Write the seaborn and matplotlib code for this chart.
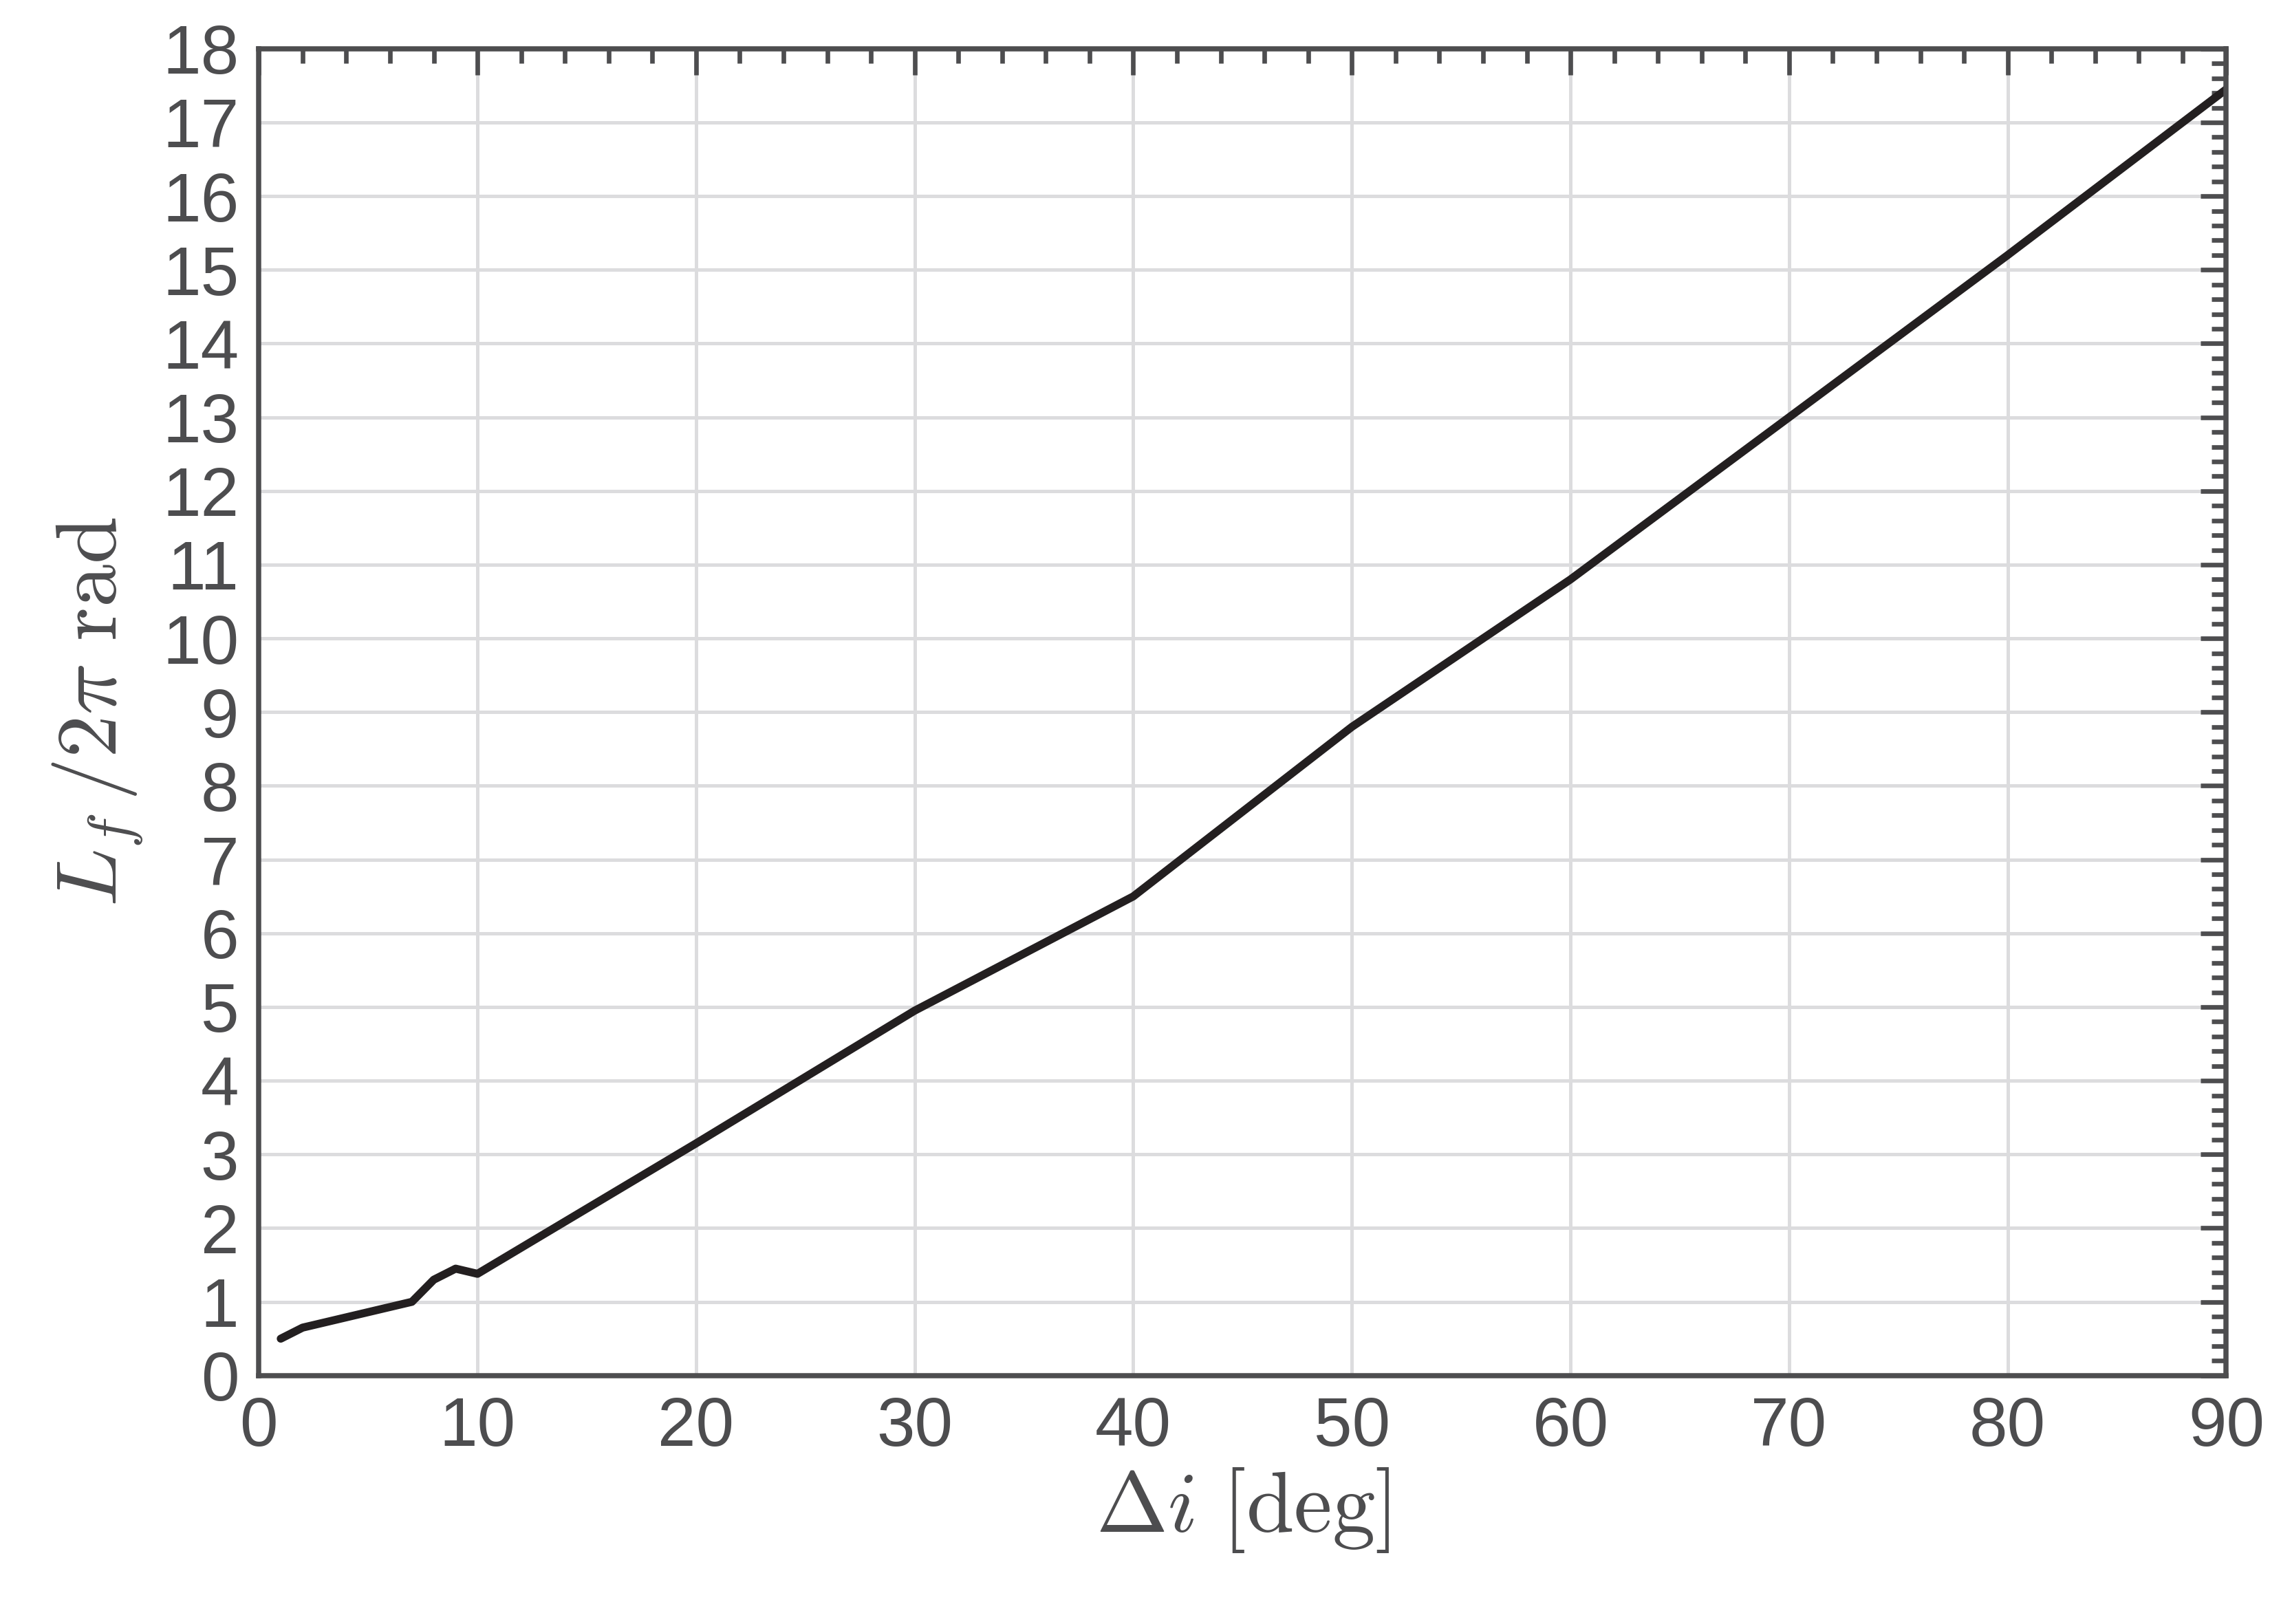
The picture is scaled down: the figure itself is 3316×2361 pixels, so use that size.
import numpy as np
import pandas as pd
import matplotlib
matplotlib.use("Agg")
import matplotlib.pyplot as plt
import seaborn as sns
from matplotlib.ticker import MultipleLocator

# Values
delta_i = [1, 2, 7, 8, 9, 10, 20, 30, 40, 50, 60, 70, 80, 90]
lf_over_2pi = [0.5, 0.65, 1.0, 1.3, 1.45, 1.38, 3.15, 4.95, 6.5, 8.8, 10.8, 13.0, 15.2, 17.45]

sns.set_theme(style="white")
plt.rcParams['font.family'] = ['Arial', 'Liberation Sans', 'DejaVu Sans']
plt.rcParams['mathtext.fontset'] = 'cm'

axcol = '#4d4d4f'
df = pd.DataFrame({"di": delta_i, "lf": lf_over_2pi})

fig = plt.figure(figsize=(3316 / 300, 2361 / 300), dpi=300)
ax = fig.add_axes([0.1135, 0.153, 0.8625, 0.817])
sns.lineplot(data=df, x="di", y="lf", color='#231f20', linewidth=2.8, ax=ax)

ax.set_xlim(0, 90)
ax.set_ylim(0, 18)
ax.xaxis.set_major_locator(MultipleLocator(10))
ax.xaxis.set_minor_locator(MultipleLocator(2))
ax.yaxis.set_major_locator(MultipleLocator(1))
ax.yaxis.set_minor_locator(MultipleLocator(0.2))
ax.grid(True, which='major', color='#dcdcde', linewidth=1.2)
ax.set_axisbelow(True)
for s in ax.spines.values():
    s.set_color(axcol)
    s.set_linewidth(1.8)
ax.tick_params(which='both', direction='in', top=True, right=True, colors=axcol,
               labelsize=24, width=1.6)
ax.tick_params(which='major', length=9, pad=7)
ax.tick_params(which='minor', length=5)
for lab in ax.get_xticklabels() + ax.get_yticklabels():
    lab.set_color(axcol)

ax.set_xlabel(r'$\Delta i\ \mathrm{[deg]}$', fontsize=30, color=axcol, labelpad=2)
ax.set_ylabel(r'$L_f\,/2\pi\ \mathrm{rad}$', fontsize=30, color=axcol, labelpad=6)

fig.savefig("out.png", dpi=300)
